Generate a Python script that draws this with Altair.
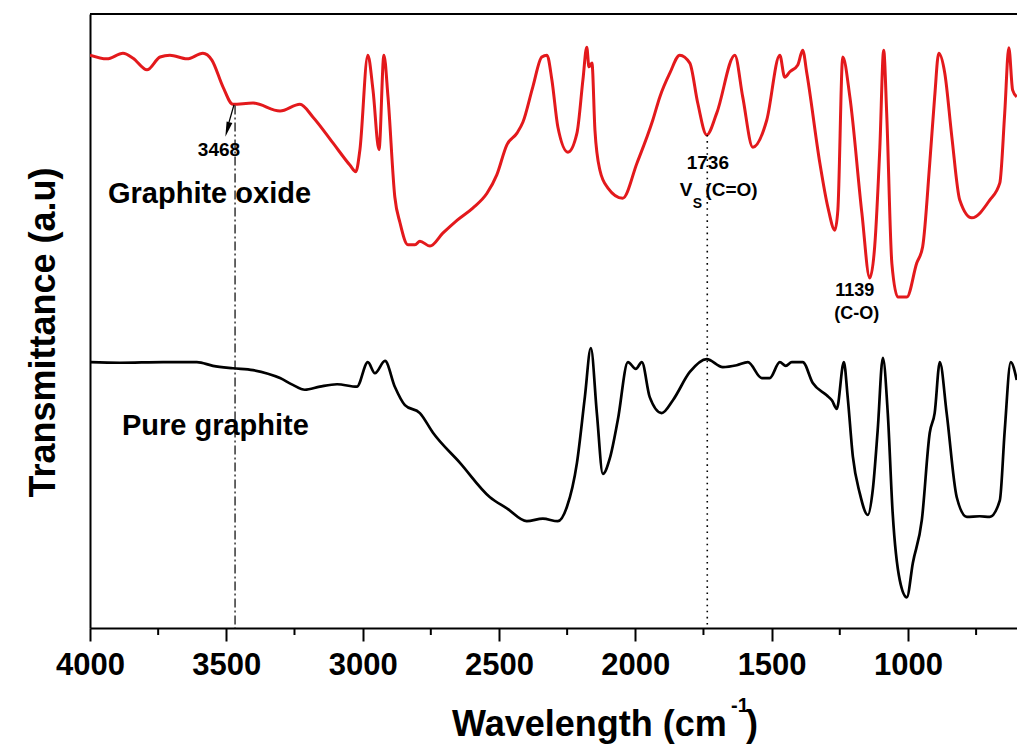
import altair as alt
import pandas as pd

# ---- data (wavenumber cm^-1, transmittance a.u.) ----
go_wn = [4000, 3938, 3879, 3842, 3791, 3743, 3707, 3644, 3586, 3553, 3512, 3476, 3402, 3303,
         3230, 3182, 3109, 3047, 3025, 3010, 2981, 2962, 2940, 2922, 2907, 2882, 2863, 2834,
         2808, 2790, 2753, 2706, 2654, 2596, 2544, 2508, 2471, 2434, 2412, 2376, 2343, 2324,
         2306, 2284, 2247, 2214, 2192, 2178, 2170, 2159, 2148, 2130, 2101, 2046, 1994, 1936,
         1910, 1873, 1837, 1800, 1771, 1738, 1701, 1635, 1606, 1569, 1518, 1470, 1452, 1433,
         1404, 1386, 1371, 1323, 1294, 1268, 1257, 1239, 1213, 1169, 1140, 1122, 1103, 1089,
         1078, 1059, 1037, 1004, 968, 946, 920, 902, 887, 865, 839, 810, 766, 700, 663, 645,
         630, 616, 601]
go_val = [93.3, 92.7, 93.6, 92.8, 90.9, 93.0, 93.3, 92.7, 93.6, 92.5, 88.1, 85.3, 85.5, 84.2,
          85.3, 83.2, 79.0, 75.4, 74.3, 77.9, 93.3, 87.6, 77.9, 93.3, 86.5, 70.2, 66.0, 62.4,
          62.4, 63.0, 62.2, 64.3, 66.4, 68.4, 70.8, 73.8, 78.7, 80.6, 82.4, 88.1, 93.0, 93.3,
          89.3, 81.6, 77.5, 80.6, 89.3, 94.6, 91.4, 92.0, 81.1, 74.6, 71.7, 70.0, 75.7, 82.7,
          86.5, 90.4, 93.3, 92.0, 85.5, 80.3, 83.9, 93.3, 86.5, 78.3, 82.7, 93.3, 89.7, 90.6,
          91.7, 94.1, 90.4, 75.7, 68.6, 64.8, 68.1, 93.0, 86.5, 67.6, 57.0, 62.1, 78.3, 94.1,
          83.9, 59.4, 53.9, 53.9, 59.4, 62.1, 75.7, 86.5, 93.6, 90.4, 80.0, 69.7, 66.8, 69.7,
          72.5, 83.9, 94.5, 87.6, 86.5]

pg_wn = [4000, 3890, 3732, 3608, 3549, 3476, 3402, 3303, 3256, 3212, 3157, 3094, 3021, 2981,
         2955, 2918, 2882, 2845, 2790, 2742, 2643, 2533, 2471, 2398, 2339, 2284, 2251, 2214,
         2185, 2163, 2141, 2119, 2093, 2064, 2027, 1998, 1976, 1947, 1903, 1862, 1800, 1738,
         1679, 1628, 1587, 1536, 1507, 1470, 1448, 1426, 1386, 1349, 1298, 1279, 1261, 1235,
         1221, 1202, 1177, 1147, 1129, 1111, 1092, 1074, 1056, 1030, 1004, 982, 949, 920, 902,
         883, 858, 821, 784, 737, 700, 663, 645, 623, 601]
pg_val = [43.3, 43.2, 43.3, 43.3, 42.7, 42.3, 42.0, 40.7, 39.6, 38.8, 39.3, 39.7, 39.3, 43.3,
          41.5, 43.5, 39.3, 36.3, 35.0, 31.8, 26.9, 21.3, 19.5, 17.4, 17.8, 17.4, 19.7, 26.9,
          37.6, 45.6, 35.0, 25.1, 27.7, 33.9, 43.3, 42.2, 43.3, 37.6, 35.0, 37.1, 41.7, 43.8,
          42.5, 42.8, 43.3, 40.7, 40.7, 43.3, 42.7, 43.3, 43.3, 39.9, 37.9, 37.1, 35.7, 43.3,
          37.6, 27.9, 22.0, 18.4, 22.5, 32.2, 44.0, 35.0, 18.7, 7.8, 5.0, 10.6, 17.6, 31.8, 35.0,
          43.3, 35.0, 21.3, 18.1, 18.2, 18.1, 20.8, 32.2, 43.3, 40.4]

x_major = [4000, 3500, 3000, 2500, 2000, 1500, 1000]
x_minor = [3750, 3250, 2750, 2250, 1750, 1250, 750]

W, H = 927, 614
FONT = "Liberation Sans"
RED = "#e3191c"

xs = alt.Scale(domain=[600, 4000], reverse=True, nice=False, zero=False)
ys = alt.Scale(domain=[0, 100], nice=False, zero=False)

go_df = pd.DataFrame({"wn": go_wn, "val": go_val})
pg_df = pd.DataFrame({"wn": pg_wn, "val": pg_val})

x_enc = alt.X("wn:Q", scale=xs, axis=alt.Axis(
    values=x_major, format="d", title=None, grid=False, domainColor="black", domainWidth=2,
    tickColor="black", tickWidth=2, tickSize=13, labelFont=FONT, labelFontWeight="bold",
    labelFontSize=31, labelColor="black", labelPadding=9, labelFlush=False))
y_enc = alt.Y("val:Q", scale=ys, axis=alt.Axis(
    labels=False, ticks=False, grid=False, domainColor="black", domainWidth=2,
    title="Transmittance (a.u)", titleFont=FONT, titleFontWeight="bold", titleFontSize=36,
    titleColor="black", titleAngle=270, titleX=-47, titleY=318, titleAlign="center",
    titleBaseline="middle"))

red_line = alt.Chart(go_df).mark_line(color=RED, strokeWidth=3, strokeJoin="round",
                                      interpolate="monotone", clip=True).encode(x=x_enc, y=y_enc)
black_line = alt.Chart(pg_df).mark_line(color="black", strokeWidth=2.7, strokeJoin="round",
                                        interpolate="monotone", clip=True).encode(
    x="wn:Q", y="val:Q")

# marker lines
marks_df = pd.DataFrame({"wn": [3468], "top": [85.1], "bot": [0]})
dashdot = alt.Chart(marks_df).mark_rule(color="black", strokeWidth=1.2,
                                        strokeDash=[9, 3, 2, 3]).encode(
    x="wn:Q", y="top:Q", y2="bot:Q")
dot_df = pd.DataFrame({"wn": [1736], "top": [80.3], "bot": [0]})
dotted = alt.Chart(dot_df).mark_rule(color="black", strokeWidth=1.6,
                                     strokeDash=[1.6, 4.5]).encode(
    x="wn:Q", y="top:Q", y2="bot:Q")

# arrow at 3468
shaft_df = pd.DataFrame({"x1": [3472], "y1": [85.2], "x2": [3490], "y2": [82.4]})
shaft = alt.Chart(shaft_df).mark_rule(color="black", strokeWidth=1.3).encode(
    x="x1:Q", y="y1:Q", x2="x2:Q", y2="y2:Q")
head_df = pd.DataFrame({"wn": [3496], "val": [81.2]})
head = alt.Chart(head_df).mark_point(shape="M -0.4 -1 L 0.4 -1 L 0 1 Z", filled=True,
                                     color="black", opacity=1, size=225, angle=16).encode(
    x="wn:Q", y="val:Q")

# annotations
def txt(df, **kw):
    return alt.Chart(pd.DataFrame(df)).mark_text(font=FONT, fontWeight="bold", color="black",
                                                 **kw).encode(x="wn:Q", y="val:Q", text="t:N")

big_left = txt({"t": ["Graphite oxide", "Pure graphite"], "wn": [3934, 3883],
                "val": [69.2, 31.4]}, fontSize=29, align="left", baseline="alphabetic")
small_center = txt({"t": ["3468", "1736"], "wn": [3527, 1734],
                    "val": [76.9, 74.8]}, fontSize=19, align="center",
                   baseline="alphabetic")
co_labels = txt({"t": ["1139", "(C-O)"], "wn": [1195, 1188],
                 "val": [54.1, 50.4]}, fontSize=18, align="center", baseline="alphabetic")
v_left = txt({"t": ["V", "(C=O)"], "wn": [1837, 1743], "val": [70.4, 70.4]},
             fontSize=19, align="left", baseline="alphabetic")
sub_s = txt({"t": ["S"], "wn": [1789], "val": [68.4]}, fontSize=14, align="left",
            baseline="alphabetic")

# minor ticks on the x axis
minor_df = pd.DataFrame({"wn": x_minor})
minor = alt.Chart(minor_df).mark_rule(color="black", strokeWidth=2).encode(
    x="wn:Q", y=alt.value(H), y2=alt.value(H + 7))

# top frame line
frame_df = pd.DataFrame({"k": [0]})
top_frame = alt.Chart(frame_df).mark_rule(color="black", strokeWidth=2).encode(
    x=alt.value(0), x2=alt.value(W), y=alt.value(0))

# x-axis title with superscript
xt_main = alt.Chart(pd.DataFrame({"t": ["Wavelength (cm"]})).mark_text(
    font=FONT, fontWeight="bold", fontSize=36, color="black", align="left",
    baseline="alphabetic").encode(x=alt.value(362), y=alt.value(722), text="t:N")
xt_sup = alt.Chart(pd.DataFrame({"t": ["-1"]})).mark_text(
    font=FONT, fontWeight="bold", fontSize=20, color="black", align="left",
    baseline="alphabetic").encode(x=alt.value(641), y=alt.value(698), text="t:N")
xt_close = alt.Chart(pd.DataFrame({"t": [")"]})).mark_text(
    font=FONT, fontWeight="bold", fontSize=36, color="black", align="left",
    baseline="alphabetic").encode(x=alt.value(656), y=alt.value(722), text="t:N")

chart = alt.layer(
    red_line, black_line, dashdot, dotted, shaft, head, big_left, small_center, co_labels,
    v_left, sub_s, minor, top_frame, xt_main, xt_sup, xt_close
).properties(
    width=W, height=H,
    autosize=alt.AutoSizeParams(type="none"),
    padding={"left": 90, "top": 14, "right": 0, "bottom": 122},
    background="white",
).configure_view(stroke=None)

chart.save("out.html", embed_options={"renderer": "svg", "actions": False})
